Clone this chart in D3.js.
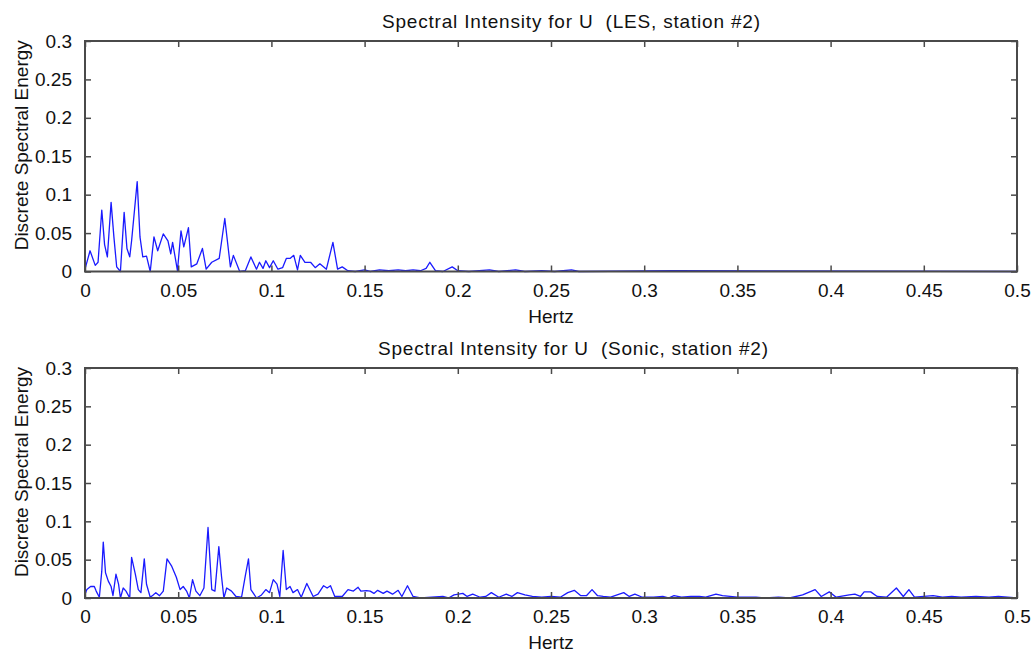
<!DOCTYPE html>
<html lang="en">
  <head>
    <meta charset="utf-8">
    <title>Spectral Intensity for U</title>
    <script src="https://unpkg.com/d3@7/dist/d3.min.js"></script>
    <style type="text/css">
body,html{
    margin: 0;
    padding: 0;
    background: #fff;
    font-family: "Liberation Sans", Arial, sans-serif;
  }
    </style>
  </head>
  <body>
    <script type="text/javascript">
      // spectrum, LES run (station #2)
      const lesHz = [0, 0.0027, 0.0055, 0.007, 0.009, 0.0105, 0.012, 0.014, 0.0155, 0.017, 0.019,
        0.021, 0.0225, 0.024, 0.025, 0.028, 0.0295, 0.031, 0.033, 0.035, 0.037, 0.039,
        0.042, 0.0445, 0.046, 0.047, 0.0496, 0.0515, 0.053, 0.0555, 0.057, 0.06, 0.063,
        0.065, 0.068, 0.072, 0.075, 0.078, 0.0796, 0.083, 0.086, 0.089, 0.092, 0.0936,
        0.0955, 0.097, 0.099, 0.101, 0.1035, 0.106, 0.108, 0.11, 0.112, 0.114, 0.1155,
        0.118, 0.121, 0.1235, 0.126, 0.1295, 0.133, 0.1355, 0.138, 0.141, 0.145, 0.15,
        0.153, 0.158, 0.163, 0.168, 0.172, 0.176, 0.18, 0.183, 0.185, 0.188, 0.192, 0.197,
        0.2, 0.206, 0.217, 0.222, 0.231, 0.236, 0.245, 0.252, 0.261, 0.265, 0.316, 0.5];
      const lesVal = [0.003, 0.027, 0.008, 0.012, 0.08, 0.035, 0.019, 0.09, 0.045, 0.006, 0.0,
        0.077, 0.03, 0.019, 0.04, 0.117, 0.045, 0.019, 0.02, 0.0, 0.045, 0.027,
        0.049, 0.04, 0.023, 0.038, 0.001, 0.053, 0.032, 0.057, 0.006, 0.01, 0.03,
        0.003, 0.012, 0.017, 0.069, 0.006, 0.021, 0.0, 0.001, 0.019, 0.003, 0.012,
        0.004, 0.014, 0.005, 0.014, 0.003, 0.005, 0.017, 0.017, 0.021, 0.002, 0.021,
        0.012, 0.012, 0.005, 0.01, 0.003, 0.038, 0.003, 0.006, 0.001, 0.0, 0.002,
        0.0, 0.002, 0.001, 0.002, 0.001, 0.002, 0.001, 0.004, 0.012, 0.001, 0.0, 0.006,
        0.001, 0.0, 0.002, 0.0, 0.002, 0.0, 0.001, 0.0, 0.002, 0.0, 0.001, 0.0];

      // spectrum, sonic anemometer (station #2)
      const sonicHz = [0, 0.001, 0.003, 0.005, 0.006, 0.0077, 0.009, 0.0098, 0.011, 0.0125, 0.014,
        0.015, 0.0166, 0.018, 0.019, 0.0205, 0.022, 0.024, 0.025, 0.027, 0.0286, 0.03,
        0.0318, 0.033, 0.035, 0.0366, 0.038, 0.04, 0.042, 0.044, 0.0464, 0.049, 0.051,
        0.0527, 0.0545, 0.056, 0.0577, 0.0595, 0.0616, 0.0638, 0.066, 0.068, 0.0697, 0.0718,
        0.0732, 0.0745, 0.076, 0.0786, 0.081, 0.084, 0.086, 0.0877, 0.089, 0.092, 0.0947,
        0.097, 0.099, 0.101, 0.103, 0.1045, 0.1063, 0.108, 0.11, 0.1116, 0.114, 0.116,
        0.119, 0.1224, 0.125, 0.128, 0.1299, 0.1317, 0.134, 0.138, 0.1411, 0.144, 0.1465,
        0.148, 0.151, 0.153, 0.155, 0.157, 0.16, 0.162, 0.165, 0.168, 0.17, 0.173, 0.176,
        0.18, 0.186, 0.192, 0.195, 0.198, 0.2027, 0.205, 0.208, 0.212, 0.215, 0.218, 0.222,
        0.226, 0.229, 0.232, 0.236, 0.24, 0.245, 0.25, 0.255, 0.259, 0.2625, 0.266, 0.269,
        0.272, 0.275, 0.278, 0.282, 0.289, 0.292, 0.295, 0.299, 0.305, 0.31, 0.313, 0.316,
        0.32, 0.325, 0.3296, 0.333, 0.3385, 0.342, 0.346, 0.35, 0.36, 0.365, 0.372, 0.378,
        0.385, 0.3917, 0.395, 0.3993, 0.403, 0.41, 0.413, 0.416, 0.418, 0.4215, 0.425, 0.43,
        0.4353, 0.439, 0.442, 0.445, 0.45, 0.455, 0.46, 0.465, 0.47, 0.478, 0.485, 0.49,
        0.495, 0.5];
      const sonicVal = [0.005, 0.011, 0.015, 0.015, 0.009, 0.001, 0.035, 0.073, 0.033, 0.022, 0.015,
        0.003, 0.031, 0.018, 0.0, 0.013, 0.009, 0.0, 0.053, 0.031, 0.011, 0.007,
        0.051, 0.018, 0.001, 0.004, 0.007, 0.003, 0.009, 0.051, 0.042, 0.027, 0.011,
        0.015, 0.009, 0.0, 0.024, 0.009, 0.003, 0.013, 0.092, 0.011, 0.009, 0.067,
        0.029, 0.0, 0.013, 0.009, 0.002, 0.001, 0.029, 0.051, 0.011, 0.0, 0.004,
        0.011, 0.007, 0.024, 0.018, 0.002, 0.062, 0.011, 0.015, 0.007, 0.011, 0.001,
        0.019, 0.002, 0.005, 0.016, 0.013, 0.016, 0.002, 0.002, 0.011, 0.009, 0.014,
        0.009, 0.0095, 0.009, 0.006, 0.01, 0.006, 0.009, 0.005, 0.01, 0.002, 0.016, 0.002,
        0.0, 0.001, 0.002, 0.0, 0.004, 0.006, 0.002, 0.005, 0.001, 0.002, 0.007, 0.001,
        0.005, 0.002, 0.007, 0.004, 0.002, 0.001, 0.002, 0.001, 0.007, 0.01, 0.003, 0.003,
        0.011, 0.003, 0.002, 0.001, 0.007, 0.002, 0.005, 0.001, 0.001, 0.002, 0.0, 0.003,
        0.001, 0.002, 0.002, 0.001, 0.005, 0.003, 0.002, 0.001, 0.001, 0.0, 0.001, 0.0,
        0.004, 0.011, 0.002, 0.008, 0.001, 0.004, 0.005, 0.002, 0.008, 0.008, 0.002, 0.001,
        0.013, 0.002, 0.011, 0.001, 0.002, 0.003, 0.001, 0.002, 0.001, 0.002, 0.001, 0.002,
        0.001, 0.0];

      const titles = ["Spectral Intensity for U  (LES, station #2)",
                      "Spectral Intensity for U  (Sonic, station #2)"];
      const xTicks = [0, 0.05, 0.1, 0.15, 0.2, 0.25, 0.3, 0.35, 0.4, 0.45, 0.5];
      const yTicks = [0, 0.05, 0.1, 0.15, 0.2, 0.25, 0.3];
      const xLabel = "Hertz";
      const yLabel = "Discrete Spectral Energy";

      let w = 1034;
      let h = 654;
      let left = 85, right = 1017;
      let panels = [
        {top: 41, bottom: 271.5, title: titles[0], hz: lesHz, val: lesVal, tx: 382, tlen: 378},
        {top: 368, bottom: 598, title: titles[1], hz: sonicHz, val: sonicVal, tx: 378, tlen: 390}
      ];

      const fmt = v => String(+v.toFixed(2));
      const axisCol = "#4a4a4a";

      const svg = d3.select("body")
        .append("svg")
        .attr("width", w)
        .attr("height", h)
        .style("display", "block");

      const x = d3.scaleLinear().domain([0, 0.5]).range([left, right]);

      panels.forEach(function(p) {
        const y = d3.scaleLinear().domain([0, 0.3]).range([p.bottom, p.top]);
        const g = svg.append("g");

        // data line
        const pts = p.hz.map((f, i) => [f, p.val[i]]);
        g.append("path")
          .datum(pts)
          .attr("fill", "none")
          .attr("stroke", "#1a1aff")
          .attr("stroke-width", 1.3)
          .attr("stroke-linejoin", "round")
          .attr("d", d3.line().x(d => x(d[0])).y(d => y(d[1])));

        // matlab style: ticks inside, on all four sides
        g.append("g")
          .attr("transform", "translate(0," + p.bottom + ")")
          .call(d3.axisBottom(x).tickValues(xTicks).tickFormat(fmt).tickSizeInner(-6).tickSizeOuter(0).tickPadding(12));
        g.append("g")
          .attr("transform", "translate(0," + p.top + ")")
          .call(d3.axisTop(x).tickValues(xTicks).tickFormat("").tickSizeInner(-6).tickSizeOuter(0));
        g.append("g")
          .attr("transform", "translate(" + left + ",0)")
          .call(d3.axisLeft(y).tickValues(yTicks).tickFormat(fmt).tickSizeInner(-6).tickSizeOuter(0).tickPadding(13));
        g.append("g")
          .attr("transform", "translate(" + right + ",0)")
          .call(d3.axisRight(y).tickValues(yTicks).tickFormat("").tickSizeInner(-6).tickSizeOuter(0));

        g.selectAll(".domain").remove();
        g.selectAll(".tick line").attr("stroke", axisCol).attr("stroke-width", 1.5);
        g.selectAll(".tick text")
          .attr("fill", "#111")
          .style("font-family", "'Liberation Sans', Arial, sans-serif")
          .style("font-size", "19px");

        g.append("rect")
          .attr("x", left)
          .attr("y", p.top)
          .attr("width", right - left)
          .attr("height", p.bottom - p.top)
          .attr("fill", "none")
          .attr("stroke", axisCol)
          .attr("stroke-width", 2);

        g.append("text")
          .attr("x", p.tx)
          .attr("y", p.top - 13)
          .attr("fill", "#111")
          .style("font-size", "19px")
          .style("white-space", "pre")
          .attr("textLength", p.tlen)
          .text(p.title);

        g.append("text")
          .attr("x", (left + right) / 2)
          .attr("y", p.bottom + 51)
          .attr("text-anchor", "middle")
          .attr("fill", "#111")
          .style("font-size", "19px")
          .text(xLabel);

        g.append("text")
          .attr("transform", "translate(28," + ((p.top + p.bottom) / 2 - 11) + ") rotate(-90)")
          .attr("text-anchor", "middle")
          .attr("fill", "#111")
          .style("font-size", "19px")
          .text(yLabel);
      });
    </script>
  </body>
</html>
